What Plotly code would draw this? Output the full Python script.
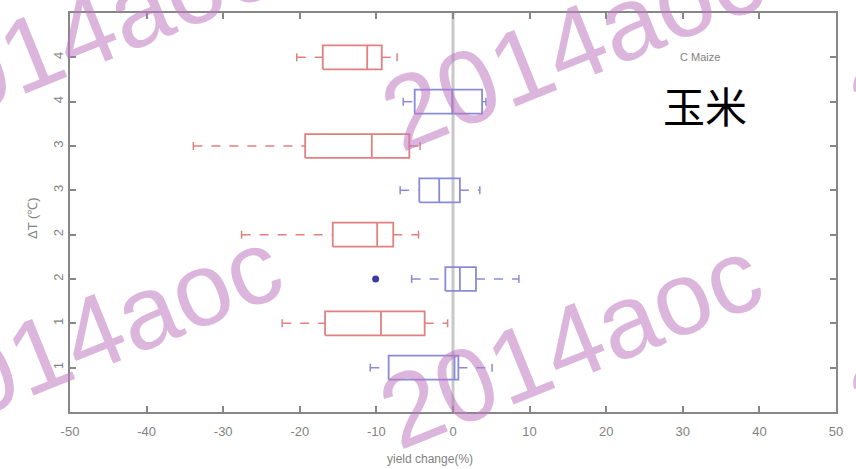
import plotly.graph_objects as go

# Box-plot summary statistics of maize yield change (%) per warming level
levels = [1, 2, 3, 4, 5, 6, 7, 8]
tick_labels = ["1", "1", "2", "2", "3", "3", "4", "4"]
series = ["blue", "red", "blue", "red", "blue", "red", "blue", "red"]
whisker_low = [-10.8, -22.3, -5.4, -27.6, -6.9, -33.9, -6.5, -20.4]
q1 = [-8.4, -16.7, -1.0, -15.7, -4.4, -19.3, -5.0, -17.0]
median = [0.2, -9.4, 0.9, -9.9, -1.8, -10.6, -0.1, -11.2]
q3 = [0.7, -3.7, 3.0, -7.8, 0.9, -5.7, 3.8, -9.3]
whisker_high = [5.1, -0.7, 8.6, -4.5, 3.5, -4.3, 4.3, -7.3]
outlier_level = [3]
outlier_value = [-10.1]
x_ticks = [-50, -40, -30, -20, -10, 0, 10, 20, 30, 40, 50]

COLORS = {"red": "rgb(226,128,128)", "blue": "rgb(138,138,218)"}
HALF = 0.27   # half box height (y units)
CAP = 0.09    # half whisker-cap height

fig = go.Figure()

# vertical reference line at zero change
fig.add_trace(go.Scatter(x=[0, 0], y=[0, 9], mode="lines",
                         line=dict(color="rgb(200,200,200)", width=3),
                         hoverinfo="skip", showlegend=False))

for y, c, lo, a, m, b, hi in zip(levels, series, whisker_low, q1, median, q3, whisker_high):
    col = COLORS[c]
    # dashed whiskers
    fig.add_trace(go.Scatter(x=[lo, a, None, b, hi], y=[y, y, None, y, y], mode="lines",
                             line=dict(color=col, width=1.5, dash="dash"),
                             showlegend=False, hoverinfo="skip"))
    # whisker caps
    fig.add_trace(go.Scatter(x=[lo, lo, None, hi, hi],
                             y=[y - CAP, y + CAP, None, y - CAP, y + CAP], mode="lines",
                             line=dict(color=col, width=1.5), showlegend=False, hoverinfo="skip"))
    # box
    fig.add_trace(go.Scatter(x=[a, b, b, a, a],
                             y=[y - HALF, y - HALF, y + HALF, y + HALF, y - HALF], mode="lines",
                             line=dict(color=col, width=1.8), showlegend=False, hoverinfo="skip"))
    # median
    fig.add_trace(go.Scatter(x=[m, m], y=[y - HALF, y + HALF], mode="lines",
                             line=dict(color=col, width=1.8), showlegend=False, hoverinfo="skip"))

fig.add_trace(go.Scatter(x=outlier_value, y=outlier_level, mode="markers",
                         marker=dict(color="rgb(60,60,160)", size=7),
                         showlegend=False, hoverinfo="skip"))

axis_common = dict(showgrid=False, zeroline=False, showline=True, mirror="ticks",
                   linecolor="rgb(135,135,135)", linewidth=2,
                   ticks="inside", ticklen=6, tickcolor="rgb(135,135,135)", tickwidth=1.5,
                   tickfont=dict(family="Liberation Sans, Arial", size=13, color="rgb(130,130,130)"))

fig.update_xaxes(range=[-50, 50], tickvals=x_ticks, ticktext=[str(v) for v in x_ticks],
                 ticklabelstandoff=6, **axis_common)
fig.update_yaxes(range=[0, 9], tickvals=levels, ticktext=tick_labels, tickangle=-90, **axis_common)

gray = "rgb(130,130,130)"
annotations = [
    dict(text="yield change(%)", x=430, y=459, showarrow=False,
         font=dict(family="Liberation Sans, Arial", size=12, color=gray)),
    dict(text="ΔT (℃)", x=32, y=218, textangle=-90, showarrow=False,
         font=dict(family="Liberation Sans, Arial", size=13, color=gray)),
    dict(text="C Maize", x=700, y=57, showarrow=False,
         font=dict(family="Liberation Sans, Arial", size=11, color=gray)),
    dict(text="玉米", x=705, y=104, showarrow=False,
         font=dict(family="Noto Sans CJK SC", size=42, color="black")),
]

# tiled watermark
for cx, cy in [(570, 343), (90, 334), (572, 45), (82, 32), (1040, 333), (1040, 36)]:
    annotations.append(dict(text="2014aoc", x=cx, y=cy, textangle=-22, showarrow=False,
                            font=dict(family="Liberation Sans, Arial", size=104,
                                      color="rgba(190,120,190,0.55)")))

# convert pixel positions to paper coordinates of the plot area
L, R, T, B = 70, 836, 13, 412
for ann in annotations:
    ann["x"] = (ann["x"] - L) / (R - L)
    ann["y"] = (B - ann["y"]) / (B - T)
    ann.update(xref="paper", yref="paper", xanchor="center", yanchor="middle")

fig.update_layout(width=856, height=469, plot_bgcolor="white", paper_bgcolor="white",
                  margin=dict(l=L, r=856 - R, t=T, b=469 - B),
                  annotations=annotations, showlegend=False)

fig.write_html("out.html")
